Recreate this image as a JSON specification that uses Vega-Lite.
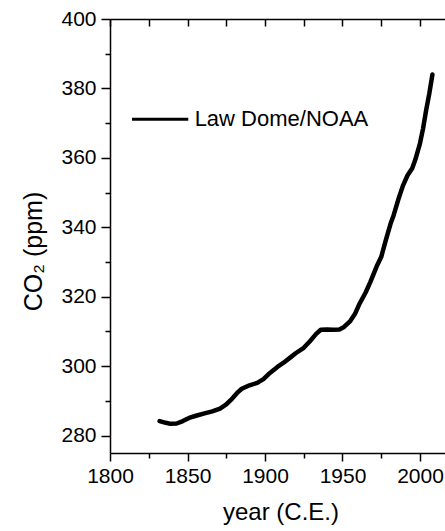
{
  "$schema": "https://vega.github.io/schema/vega-lite/v6.json",
  "width": 341,
  "height": 434,
  "autosize": "none",
  "padding": {"left": 110, "top": 19, "right": 0, "bottom": 78},
  "background": "white",
  "config": {
    "view": {"stroke": null},
    "font": "Liberation Sans",
    "axis": {
      "grid": false,
      "domainColor": "black",
      "domainWidth": 1.5,
      "tickColor": "black",
      "tickWidth": 1.5,
      "labelColor": "black",
      "titleColor": "black",
      "labelFont": "Liberation Sans",
      "titleFont": "Liberation Sans",
      "labelFontSize": 21,
      "titleFontSize": 24,
      "titleFontWeight": "normal",
      "labelFlush": false,
      "labelOverlap": false
    }
  },
  "resolve": {"axis": {"x": "independent", "y": "independent"}},
  "layer": [
    {
      "data": {"values": [
        {"year": 1832, "co2": 284.2}, {"year": 1836, "co2": 283.7}, {"year": 1839, "co2": 283.4},
        {"year": 1843, "co2": 283.5}, {"year": 1847, "co2": 284.2}, {"year": 1851, "co2": 285.1},
        {"year": 1856, "co2": 285.8}, {"year": 1861, "co2": 286.4}, {"year": 1866, "co2": 287.0},
        {"year": 1871, "co2": 287.8}, {"year": 1875, "co2": 289.0}, {"year": 1878, "co2": 290.3},
        {"year": 1882, "co2": 292.3}, {"year": 1885, "co2": 293.5}, {"year": 1890, "co2": 294.5},
        {"year": 1895, "co2": 295.2}, {"year": 1899, "co2": 296.3}, {"year": 1903, "co2": 298.0},
        {"year": 1908, "co2": 299.8}, {"year": 1912, "co2": 301.0}, {"year": 1916, "co2": 302.4},
        {"year": 1920, "co2": 303.8}, {"year": 1925, "co2": 305.3}, {"year": 1929, "co2": 307.2},
        {"year": 1933, "co2": 309.3}, {"year": 1936, "co2": 310.5}, {"year": 1940, "co2": 310.6},
        {"year": 1944, "co2": 310.5}, {"year": 1948, "co2": 310.6}, {"year": 1951, "co2": 311.3},
        {"year": 1955, "co2": 313.0}, {"year": 1958, "co2": 315.0}, {"year": 1961, "co2": 318.0},
        {"year": 1965, "co2": 321.3}, {"year": 1968, "co2": 324.3}, {"year": 1972, "co2": 328.7},
        {"year": 1975, "co2": 331.5}, {"year": 1978, "co2": 336.4}, {"year": 1981, "co2": 341.0},
        {"year": 1983, "co2": 343.5}, {"year": 1986, "co2": 348.0}, {"year": 1989, "co2": 352.0},
        {"year": 1992, "co2": 355.0}, {"year": 1995, "co2": 357.0}, {"year": 1997, "co2": 359.5},
        {"year": 2000, "co2": 364.2}, {"year": 2002, "co2": 368.5}, {"year": 2004, "co2": 373.8},
        {"year": 2006, "co2": 378.5}, {"year": 2008, "co2": 384.0}
      ]},
      "mark": {"type": "line", "color": "black", "strokeWidth": 4.5, "strokeCap": "round", "strokeJoin": "round"},
      "encoding": {
        "x": {"field": "year", "type": "quantitative",
              "scale": {"domain": [1800, 2020], "nice": false, "zero": false},
              "axis": {"orient": "bottom", "values": [1800, 1850, 1900, 1950, 2000], "tickSize": 8,
                       "labelPadding": 4, "format": "d", "title": "year (C.E.)", "titlePadding": 14}},
        "y": {"field": "co2", "type": "quantitative",
              "scale": {"domain": [275, 400], "nice": false, "zero": false},
              "axis": {"orient": "left", "values": [280, 300, 320, 340, 360, 380, 400], "tickSize": 9,
                       "labelPadding": 5, "title": "CO₂ (ppm)", "titlePadding": 14, "titleY": 232, "titleFontSize": 25}}
      }
    },
    {
      "data": {"values": [{"year": 1814.2, "year2": 1850.5, "co2": 371.1}]},
      "mark": {"type": "rule", "color": "black", "strokeWidth": 3},
      "encoding": {
        "x": {"field": "year", "type": "quantitative",
              "axis": {"orient": "bottom", "values": [1825, 1875, 1925, 1975], "tickSize": 5,
                       "labels": false, "domain": false, "title": null}},
        "x2": {"field": "year2"},
        "y": {"field": "co2", "type": "quantitative",
              "axis": {"orient": "left", "values": [290, 310, 330, 350, 370, 390], "tickSize": 5,
                       "labels": false, "domain": false, "title": null}}
      }
    },
    {
      "data": {"values": [{"year": 1854.6, "co2": 371.1, "label": "Law Dome/NOAA"}]},
      "mark": {"type": "text", "align": "left", "baseline": "middle", "fontSize": 22, "color": "black", "font": "Liberation Sans"},
      "encoding": {
        "x": {"field": "year", "type": "quantitative",
              "axis": {"orient": "top", "values": [1800, 1825, 1850, 1875, 1900, 1925, 1950, 1975, 2000, 2025],
                       "tickSize": -7, "labels": false, "title": null}},
        "y": {"field": "co2", "type": "quantitative", "axis": null},
        "text": {"field": "label"}
      }
    }
  ]
}
